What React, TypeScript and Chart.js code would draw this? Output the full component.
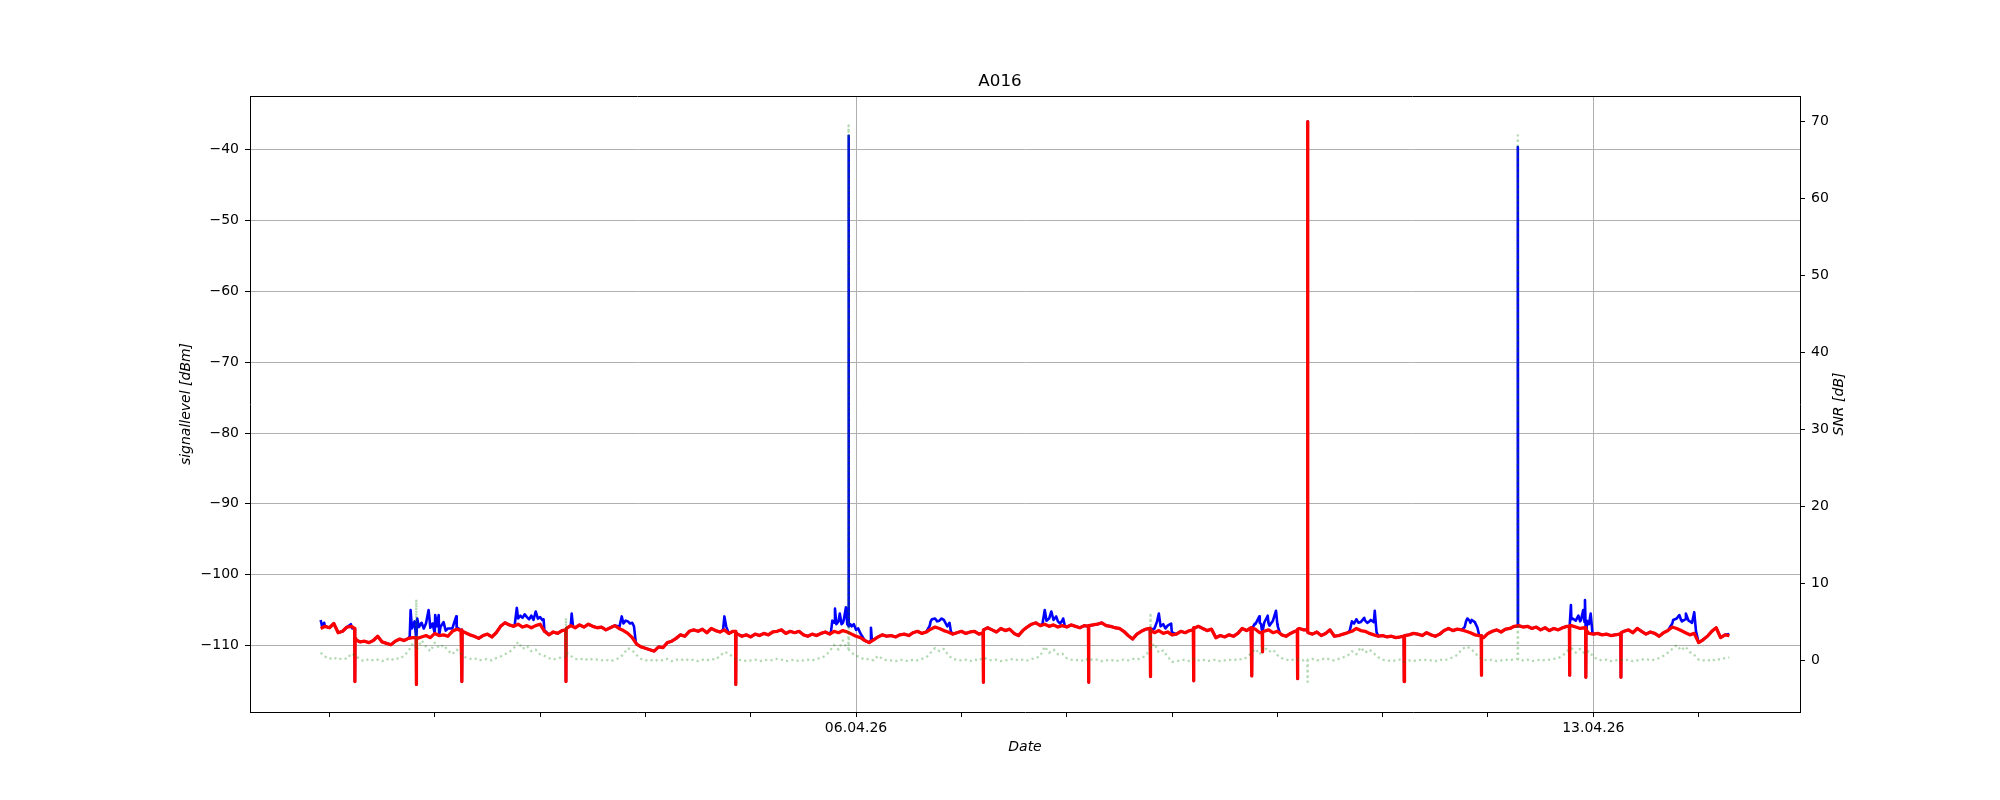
import { useEffect, useRef } from 'react';
import Chart from 'chart.js/auto';

// Time axis: hours since 01.04.26 00:00; hourly samples start at 31.03.26 22:00
const START_HOUR = -2;
const dayTickLabels = ['01.04.26', '02.04.26', '03.04.26', '04.04.26', '05.04.26', '06.04.26', '07.04.26', '08.04.26', '09.04.26', '10.04.26', '11.04.26', '12.04.26', '13.04.26', '14.04.26'];
const labeledTicks = ['06.04.26', '13.04.26'];
const leftTicks = [-110, -100, -90, -80, -70, -60, -50, -40];
const rightTicks = [0, 10, 20, 30, 40, 50, 60, 70];

// Hourly signal level (red trace), dBm
const redLevelHourly = [
  -107.6, -107.3, -107.5, -106.9, -108.2, -108.0, -107.4, -107.3, -109.2, -109.5, -109.4, -109.6,
  -109.3, -108.7, -109.5, -109.7, -109.9, -109.4, -109.1, -109.3, -109.0, -108.9,
  -109.0, -108.8, -108.6, -108.9, -108.3, -108.6, -108.5, -108.7, -108.0, -107.7,
  -107.9, -108.2, -108.5, -108.7, -109.0, -108.6, -108.4, -108.8, -108.2, -107.3,
  -106.8, -107.1, -107.3, -107.0, -107.4, -107.2, -107.5, -107.2, -107.0, -108.0,
  -108.5, -108.1, -108.3, -107.9, -107.6, -107.2, -107.5, -107.1, -107.4, -107.0,
  -107.3, -107.5, -107.4, -107.8, -107.5, -107.2, -107.6, -107.9, -108.3, -108.9,
  -109.8, -110.2, -110.4, -110.6, -110.8, -110.2, -110.3, -109.6, -109.4, -109.0,
  -108.5, -108.7, -108.0, -107.8, -108.0, -107.7, -108.2, -107.6, -107.9, -108.1,
  -107.8, -108.3, -108.0, -108.4, -108.7, -108.5, -108.8, -108.4, -108.6, -108.3,
  -108.5, -108.1, -108.0, -107.8, -108.3, -108.0, -108.2, -108.0, -108.5, -108.7,
  -108.4, -108.6, -108.3, -108.1, -108.4, -108.0, -108.2, -107.9, -108.1, -108.4,
  -108.7, -108.9, -109.3, -109.6, -109.2, -108.8, -108.5, -108.7, -108.6, -108.8,
  -108.5, -108.4, -108.6, -108.2, -108.0, -108.3, -108.1, -107.7, -107.4, -107.6,
  -107.9, -108.1, -108.4, -108.2, -108.0, -108.3, -108.1, -108.0, -108.4, -108.2,
  -107.5, -107.8, -108.1, -107.6, -107.9, -107.7, -108.3, -108.6, -107.9, -107.4,
  -107.0, -106.8, -107.2, -107.0, -107.3, -107.1, -107.4, -107.2, -107.4, -107.1,
  -107.3, -107.5, -107.2, -107.3, -107.1, -107.0, -106.8, -107.2, -107.3, -107.5,
  -107.6, -108.0, -108.6, -109.1, -108.4, -108.0, -107.7, -107.6, -108.2, -107.9,
  -108.3, -108.1, -108.5, -108.4, -108.0, -108.2, -107.9, -107.6, -107.3, -107.6,
  -107.9, -107.7, -108.9, -108.6, -108.8, -108.5, -108.7, -108.3, -107.6, -107.9,
  -107.5, -107.7, -108.2, -108.0, -107.8, -108.2, -108.0, -108.5, -108.7, -108.3,
  -108.0, -107.6, -107.8, -108.2, -108.4, -108.1, -108.6, -108.3, -107.8, -108.7,
  -108.6, -108.4, -108.2, -108.0, -107.6, -107.9, -108.0, -108.3, -108.5, -108.7,
  -108.6, -108.8, -108.7, -108.9, -108.8, -108.6, -108.5, -108.3, -108.4, -108.6,
  -108.2, -108.5, -108.7, -108.4, -107.9, -107.6, -107.9, -107.7, -107.8, -108.0,
  -108.2, -108.5, -108.6, -108.9, -108.3, -108.0, -107.8, -108.1, -107.7, -107.6,
  -107.3, -107.2, -107.4, -107.3, -107.6, -107.4, -107.8, -107.5, -107.9, -107.6,
  -107.8, -107.5, -107.3, -107.2, -107.4, -107.6, -107.5, -108.3, -108.4, -108.3,
  -108.5, -108.4, -108.6, -108.5, -108.4, -108.0, -107.8, -108.2, -107.6, -108.0,
  -108.4, -108.1, -108.3, -108.7, -108.2, -107.9, -107.4, -107.6, -107.9, -108.2,
  -108.5, -108.3, -109.6, -109.2, -108.7, -108.0, -107.5, -108.9, -108.5, -108.6,
];

// Short events in the level traces (dips and the red spike): [hour, dBm]
const redLevelEvents = [
  [5.75, -107.6], [5.8, -115.1], [5.85, -109.0],
  [19.75, -108.9], [19.8, -115.5], [19.85, -108.9],
  [30.15, -107.8], [30.2, -115.1], [30.25, -108.0],
  [53.85, -107.8], [53.9, -115.1], [53.95, -107.7],
  [92.55, -108.0], [92.6, -115.5], [92.65, -108.2],
  [148.95, -108.2], [149.0, -115.2], [149.05, -107.8],
  [172.95, -107.3], [173.0, -115.2], [173.05, -107.2],
  [187.05, -107.6], [187.1, -114.4], [187.15, -107.8],
  [196.85, -107.8], [196.9, -115.0], [196.95, -107.5],
  [210.15, -107.5], [210.2, -114.3], [210.25, -107.6],
  [212.55, -108.2], [212.6, -110.9], [212.65, -108.1],
  [220.55, -107.9], [220.6, -114.7], [220.65, -107.7],
  [222.85, -107.8], [222.9, -36.0], [222.95, -108.1],
  [244.85, -108.7], [244.9, -115.1], [244.95, -108.6],
  [262.45, -108.6], [262.5, -114.2], [262.55, -108.7],
  [282.55, -107.3], [282.6, -114.2], [282.65, -107.2],
  [286.25, -107.5], [286.3, -114.5], [286.35, -107.8],
  [294.25, -108.4], [294.3, -114.5], [294.35, -108.2],
];

// Blue trace: where it rises above the red trace (bursts and spikes): [hour, dBm]
const blueLevelBursts = [
  [-2, -106.4], [-1.6, -107.5], [-1.2, -106.8],
  [4.9, -107.0], [5.2, -107.6],
  [18.3, -108.7], [18.5, -105.0], [18.8, -107.6], [19, -107.3], [19.4, -106.6], [20, -106.2], [20.4, -107.4],
  [21, -106.8], [21.5, -107.6], [22, -106.9], [22.6, -105.0], [23, -107.5], [23.5, -106.9], [24.1, -105.7],
  [24.5, -107.3], [24.9, -105.7], [25.3, -107.4], [26, -106.7], [26.5, -107.9], [27, -107.6], [28, -107.6],
  [28.9, -105.9], [29.2, -107.5],
  [42.2, -107.2], [42.7, -104.7], [43, -106.2], [43.5, -105.8], [44, -106.1], [44.5, -105.6], [45, -106.0],
  [45.5, -106.3], [46, -105.8], [46.5, -106.4], [47, -105.2], [47.5, -106.2], [48, -106.0], [48.5, -106.4],
  [48.8, -106.3], [49.3, -108.0],
  [55.0, -107.2], [55.2, -105.5], [55.5, -107.3],
  [65.8, -107.3], [66.6, -105.9], [67, -106.9], [67.5, -106.5], [68, -106.6], [68.5, -106.9], [69, -106.8],
  [69.4, -107.3], [69.8, -109.5],
  [89.7, -107.8], [90.0, -105.9], [90.4, -107.3],
  [114.3, -108.0], [114.6, -106.5], [115, -106.8], [115.2, -104.8], [115.5, -107.0], [116, -106.6],
  [116.3, -105.5], [116.7, -107.0], [117, -106.8], [117.2, -106.4], [117.7, -104.6], [118, -107.0],
  [118.25, -107.2], [118.3, -38.0], [118.35, -107.3], [118.7, -107.0], [119, -107.3], [119.5, -107.0],
  [120, -107.8], [120.5, -107.6], [121, -108.3],
  [123.2, -109.4], [123.4, -107.5], [123.6, -109.2],
  [136.8, -107.2], [137, -106.6], [137.3, -106.3], [138, -106.2], [138.5, -106.6], [139, -106.5],
  [139.5, -106.2], [140, -106.4], [140.8, -107.3], [141, -107.1], [141.3, -106.8], [141.6, -108.0],
  [162.5, -106.9], [163, -105.0], [163.4, -106.5], [164, -106.2], [164.5, -105.2], [165, -106.4],
  [165.6, -105.9], [166, -106.6], [166.5, -106.9], [167, -106.5], [167.2, -106.2], [167.6, -107.3],
  [188, -107.6], [188.6, -106.6], [189, -105.5], [189.4, -107.3], [190, -107.0], [190.5, -107.6],
  [191, -107.2], [191.8, -106.9], [192.2, -108.2],
  [210.9, -106.9], [211, -107.0], [211.5, -106.4], [211.9, -105.9], [212, -106.8], [212.3, -107.0],
  [213, -106.8], [213.8, -105.8], [214, -106.9], [214.2, -107.2], [215, -106.5], [215.7, -105.1],
  [216, -107.0], [216.1, -107.3], [216.6, -108.3],
  [232.5, -107.9], [233, -106.6], [233.5, -106.9], [234, -106.3], [234.5, -106.8], [235, -106.7],
  [235.8, -106.1], [236, -106.5], [236.5, -106.8], [237, -106.6], [237.3, -106.4], [238, -106.7],
  [238.2, -105.1], [238.6, -108.1],
  [258.7, -107.4], [259, -106.6], [259.3, -106.2], [259.8, -106.5],
  [260, -106.8], [260.3, -106.4], [261, -106.7], [261.6, -107.5], [262, -108.6],
  [270.75, -107.3], [270.8, -39.6], [270.85, -107.2],
  [282.4, -107.3], [282.9, -104.3], [283, -106.3], [283.3, -106.2], [284, -106.5], [284.6, -105.8],
  [285, -106.6], [285.2, -106.4], [285.7, -105.0], [286, -106.7], [286.1, -103.6], [286.5, -106.5],
  [287, -107.0], [287.4, -105.5], [287.8, -108.2],
  [305.5, -107.4], [306, -106.9], [306.2, -106.4], [307, -106.2], [307.6, -105.7], [308, -106.4],
  [308.2, -106.6], [309, -106.3], [309.1, -105.5], [309.7, -106.5], [310, -106.6], [310.5, -106.8],
  [311, -105.3], [311.4, -108.0],
  [319, -108.4],
];

// Hourly SNR (green dotted trace), dB
const snrHourly = [
  1.0, 0.5, 0.2, 0.4, 0.1, 0.3, 0.2, 0.9, 0.6, 0.1, -0.1, 0.2,
  0.0, 0.1, -0.1, 0.2, 0.0, 0.3, 0.2, 0.6, 1.2, 2.2,
  1.5, 2.6, 1.8, 1.2, 2.3, 1.6, 2.0, 1.3, 0.8, 1.4,
  0.9, 0.4, 0.2, 0.3, 0.0, 0.1, 0.2, 0.0, 0.3, 0.5,
  0.8, 1.1, 1.6, 2.4, 1.5, 1.9, 1.2, 1.4, 0.8, 0.6,
  0.3, 0.1, 0.3, 0.4, 1.0, 0.6, 0.2, 0.1, 0.3, 0.0,
  0.2, 0.1, 0.0, 0.1, -0.1, 0.1, 0.3, 0.8, 1.6, 1.3,
  0.7, 0.2, 0.0, 0.1, -0.1, 0.1, 0.0, 0.2, -0.1, 0.1,
  0.0, 0.2, 0.0, 0.1, -0.1, 0.1, 0.0, 0.2, 0.1, 0.6,
  1.1, 0.9, 0.4, 0.0, 0.1, -0.1, 0.0, 0.1, -0.1, 0.0,
  0.1, 0.0, 0.2, 0.1, -0.1, 0.0, 0.1, -0.1, 0.0, 0.1,
  0.0, 0.2, 0.3, 0.6, 1.2, 2.0, 1.4, 2.6, 1.5, 1.0,
  0.6, 0.4, 0.1, 0.2, 0.0, 0.6, 0.2, 0.0, 0.0, -0.1,
  0.1, 0.0, -0.1, 0.1, 0.0, 0.2, 0.4, 1.0, 1.6, 1.2,
  1.5, 0.7, 0.2, 0.1, 0.0, 0.1, -0.1, 0.1, 0.0, 0.4,
  0.1, 0.0, 0.1, -0.1, 0.0, 0.1, 0.2, 0.0, 0.1, 0.0,
  0.2, 0.3, 0.6, 1.8, 1.0, 1.4, 0.8, 0.9, 0.3, 0.1,
  0.0, 0.1, -0.1, 0.3, 0.0, 0.1, -0.1, 0.0, 0.1, -0.1,
  0.0, 0.1, 0.0, 0.2, 0.1, 0.3, 0.6, 1.5, 2.2, 1.0,
  1.3, 0.5, -0.2, -0.1, 0.0, 0.1, -0.1, 0.2, 0.0, 0.1,
  -0.1, 0.0, 0.1, -0.1, 0.0, 0.1, 0.0, 0.2, 0.1, 0.4,
  0.9, 1.5, 0.8, 1.8, 1.1, 1.4, 0.7, 0.3, 0.1, 0.0,
  0.2, 0.1, 0.0, 0.1, 0.2, 0.0, 0.1, 0.3, 0.1, 0.0,
  0.2, 0.4, 0.6, 1.2, 0.8, 1.7, 1.0, 1.4, 0.9, 0.4,
  0.1, 0.0, -0.1, 0.0, 0.1, -0.2, 0.0, -0.1, 0.1, 0.0,
  0.1, 0.0, -0.1, 0.1, 0.0, 0.2, 0.4, 0.7, 1.4, 1.8,
  1.6, 1.0, 0.4, 0.1, 0.0, 0.1, -0.1, 0.0, 0.1, 0.0,
  0.2, 0.1, 0.0, 0.1, -0.1, 0.0, 0.1, 0.0, 0.1, 0.2,
  0.3, 0.6, 1.2, 1.6, 1.0, 1.5, 0.9, 1.2, 0.5, 0.1,
  0.0, 0.1, -0.1, 0.0, 0.1, 0.0, 0.1, -0.1, 0.0, 0.1,
  0.2, 0.0, 0.1, 0.3, 0.6, 1.0, 1.5, 2.0, 1.3, 1.8,
  1.1, 0.7, 0.1, 0.0, 0.1, -0.1, 0.2, 0.1, 0.3, 0.4,
];

// SNR spikes: [hour, dB]
const snrEvents = [
  [19.75, 1.8], [19.8, 7.9], [19.85, 1.6],
  [53.85, 0.5], [53.9, 5.5], [53.95, 0.6],
  [118.25, 1.6], [118.3, 69.5], [118.35, 1.4],
  [187.05, 1.2], [187.1, 5.9], [187.15, 1.6],
  [222.85, 0.1], [222.9, -2.8], [222.95, 0.1],
  [270.75, 0.2], [270.8, 68.2], [270.85, 0.1],
];

const FONT = "'DejaVu Sans', 'Liberation Sans', sans-serif";

function buildSeries(hourly: number[], ...extras: number[][][]) {
  const m = new Map<number, number>();
  hourly.forEach((v, i) => m.set(START_HOUR + i, v));
  extras.forEach((list) => list.forEach(([t, v]) => m.set(t, v)));
  return [...m.entries()].sort((a, b) => a[0] - b[0]).map(([x, y]) => ({ x, y }));
}

const minus = (v: number) => (v < 0 ? '\u2212' + Math.abs(v) : String(v));

const framePlugin = {
  id: 'frame',
  afterDraw(chart: any) {
    const { ctx, chartArea } = chart;
    ctx.save();
    ctx.strokeStyle = '#000';
    ctx.lineWidth = 1;
    ctx.beginPath();
    ctx.moveTo(chartArea.left, Math.round(chartArea.top) + 0.5);
    ctx.lineTo(chartArea.right, Math.round(chartArea.top) + 0.5);
    ctx.stroke();
    ctx.translate(chartArea.right + 39, (chartArea.top + chartArea.bottom) / 2);
    ctx.rotate(-Math.PI / 2);
    ctx.font = `italic 14px ${FONT}`;
    ctx.textAlign = 'center';
    ctx.textBaseline = 'middle';
    ctx.fillStyle = '#000';
    ctx.fillText('SNR [dB]', 0, 0);
    ctx.restore();
  },
};

export default function App() {
  const ref = useRef<HTMLCanvasElement | null>(null);

  useEffect(() => {
    document.body.style.margin = '0';
    const canvas = ref.current;
    if (!canvas) return;

    const red = buildSeries(redLevelHourly, redLevelEvents);
    const blue = buildSeries(redLevelHourly, redLevelEvents, blueLevelBursts);
    const green = buildSeries(snrHourly, snrEvents);

    const tickFont = { family: FONT, size: 14 };
    const labelFont = { family: FONT, size: 14, style: 'italic' as const };

    const chart = new Chart(canvas, {
      type: 'line',
      data: {
        datasets: [
          {
            label: 'SNR',
            data: green,
            yAxisID: 'y2',
            borderColor: 'rgba(0,128,0,0.3)',
            borderWidth: 2.3,
            borderDash: [2.2, 3.2],
            borderJoinStyle: 'round',
            pointRadius: 0,
            tension: 0,
            order: 0,
          },
          {
            label: 'level mean',
            data: red,
            yAxisID: 'y',
            borderColor: '#ff0000',
            borderWidth: 3.3,
            borderJoinStyle: 'round',
            pointRadius: 0,
            tension: 0,
            order: 1,
          },
          {
            label: 'level',
            data: blue,
            yAxisID: 'y',
            borderColor: '#0000ff',
            borderWidth: 2.6,
            borderJoinStyle: 'round',
            pointRadius: 0,
            tension: 0,
            order: 2,
          },
        ],
      },
      options: {
        animation: false,
        responsive: false,
        devicePixelRatio: 1,
        layout: { padding: 0 },
        plugins: {
          legend: { display: false },
          tooltip: { enabled: false },
          title: {
            display: true,
            text: 'A016',
            color: '#000',
            font: { family: FONT, size: 16.7, weight: 'normal', lineHeight: 1.2 },
            padding: { top: 72, bottom: 4 },
          },
        },
        scales: {
          x: {
            type: 'linear',
            min: -18.1,
            max: 335.1,
            afterBuildTicks: (s: any) => {
              s.ticks = dayTickLabels.map((_, i) => ({ value: i * 24 }));
            },
            afterFit: (s: any) => {
              s.height = 88;
            },
            ticks: {
              autoSkip: false,
              maxRotation: 0,
              color: '#000',
              font: tickFont,
              padding: 3,
              callback: (v: any) => {
                const lab = dayTickLabels[Math.round(Number(v) / 24)];
                return labeledTicks.includes(lab) ? lab : '';
              },
            },
            grid: {
              color: (ctx: any) => {
                const lab = ctx.tick ? dayTickLabels[Math.round(ctx.tick.value / 24)] : '';
                return labeledTicks.includes(lab) ? '#b0b0b0' : 'rgba(0,0,0,0)';
              },
              tickColor: '#000',
              tickLength: 5,
              lineWidth: 1,
            },
            border: { color: '#000', width: 1 },
            title: {
              display: true,
              text: 'Date',
              color: '#000',
              font: labelFont,
              padding: { top: 0, bottom: 44 },
            },
          },
          y: {
            type: 'linear',
            position: 'left',
            min: -119.4,
            max: -32.4,
            afterBuildTicks: (s: any) => {
              s.ticks = leftTicks.map((v) => ({ value: v }));
            },
            afterFit: (s: any) => {
              s.width = 250;
            },
            ticks: {
              color: '#000',
              font: tickFont,
              padding: 6,
              callback: (v: any) => minus(Number(v)),
            },
            grid: { color: '#b0b0b0', tickColor: '#000', tickLength: 5, lineWidth: 1 },
            border: { color: '#000', width: 1 },
            title: {
              display: true,
              text: 'signallevel [dBm]',
              color: '#000',
              font: labelFont,
              padding: { top: 177.6, bottom: 0 },
            },
          },
          y2: {
            type: 'linear',
            position: 'right',
            min: -6.7,
            max: 73.3,
            afterBuildTicks: (s: any) => {
              s.ticks = rightTicks.map((v) => ({ value: v }));
            },
            afterFit: (s: any) => {
              s.width = 200;
            },
            ticks: {
              color: '#000',
              font: tickFont,
              padding: 6,
              callback: (v: any) => minus(Number(v)),
            },
            grid: { drawOnChartArea: false, color: '#000', tickColor: '#000', tickLength: 5 },
            border: { color: '#000', width: 1 },
          },
        },
      },
      plugins: [framePlugin],
    });

    return () => chart.destroy();
  }, []);

  return (
    <div style={{ width: 2000, height: 800 }}>
      <canvas ref={ref} width={2000} height={800} style={{ display: 'block', width: 2000, height: 800 }} />
    </div>
  );
}
